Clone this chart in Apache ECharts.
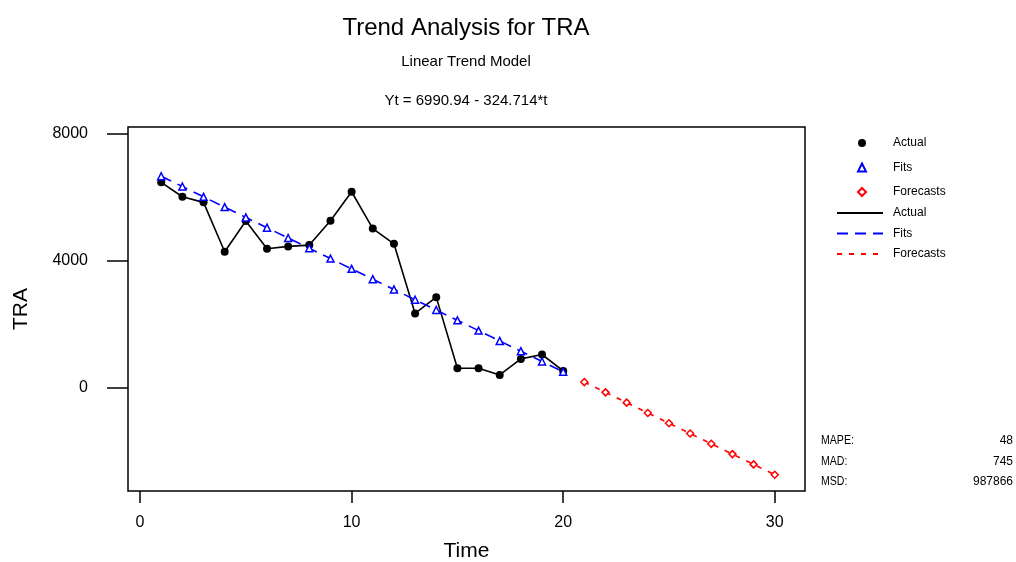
<!DOCTYPE html>
<html>
<head>
<meta charset="utf-8">
<script src="https://cdn.jsdelivr.net/npm/echarts@6/dist/echarts.min.js"></script>
<style>
  html, body { margin: 0; padding: 0; background: #fff; }
  #main { width: 1016px; height: 562px; }
</style>
</head>
<body>
<div id="main"></div>
<script>
// data
var actualTime = [1, 2, 3, 4, 5, 6, 7, 8, 9, 10, 11, 12, 13, 14, 15, 16, 17, 18, 19, 20];
var actualValues = [6474, 6019, 5842, 4282, 5252, 4377, 4453, 4494, 5261, 6177,
                    5015, 4535, 2337, 2852, 609, 609, 398, 903, 1042, 524];
var fitValues = [6666.2, 6341.5, 6016.8, 5692.1, 5367.4, 5042.7, 4717.9, 4393.2, 4068.5, 3743.8,
                 3419.1, 3094.4, 2769.7, 2444.9, 2120.2, 1795.5, 1470.8, 1146.1, 821.4, 496.7];
var forecastTime = [21, 22, 23, 24, 25, 26, 27, 28, 29, 30];
var forecastValues = [171.9, -152.8, -477.5, -802.2, -1126.9, -1451.6, -1776.3, -2101.1, -2425.8, -2750.5];
var xTicks = [0, 10, 20, 30];
var yTicks = [0, 4000, 8000];
var statNames = ['MAPE:', 'MAD:', 'MSD:'];
var statValues = ['48', '745', '987866'];

var SANS = "'Liberation Sans', Arial, sans-serif";

function pairs(xs, ys) {
    var out = [];
    for (var i = 0; i < xs.length; i++) {
        out.push([xs[i], ys[i]]);
    }
    return out;
}

var actualData = pairs(actualTime, actualValues);
var fitData = pairs(actualTime, fitValues);
var forecastData = pairs(forecastTime, forecastValues);

var myChart = echarts.init(document.getElementById('main'));

// plain text pieces (titles, stats)
function label(x, y, text, size, align, scale) {
    return {
        type: 'text', x: x, y: y, scaleX: scale,
        style: { text: text, font: size + 'px ' + SANS, fill: '#000',
                 textAlign: align, textVerticalAlign: 'middle' }
    };
}

var graphics = [
    label(466, 28, 'Trend Analysis for TRA', 24, 'center', 1),
    label(466, 62, 'Linear Trend Model', 15, 'center', 1),
    label(466, 101, 'Yt = 6990.94 - 324.714*t', 15, 'center', 1)
];
// stats block on the lower right
for (var i = 0; i < statNames.length; i++) {
    graphics.push(label(821, 441 + i * 20.5, statNames[i], 12, 'left', 0.88));
    graphics.push(label(1013, 441 + i * 20.5, statValues[i], 12, 'right', 1));
}

var option = {
    animation: false,
    backgroundColor: '#fff',
    graphic: graphics,
    grid: {
        left: 128, right: 211, top: 127, bottom: 71,
        outerBoundsMode: 'none', containLabel: false,
        show: true, borderColor: '#000', borderWidth: 1.5, backgroundColor: 'transparent'
    },
    legend: [{
        orient: 'vertical',
        left: 852, top: 132,
        itemWidth: 8, itemHeight: 8, itemGap: 12.5,
        data: ['Actual', 'Fits', 'Forecasts'],
        textStyle: { fontFamily: SANS, fontSize: 12, color: '#000', padding: [0, 0, 0, 22] },
        selectedMode: false
    }, {
        orient: 'vertical',
        left: 831, top: 202,
        itemWidth: 46, itemHeight: 12, itemGap: 8.5,
        data: ['Actual line', 'Fits line', 'Forecasts line'],
        formatter: function(name) { return name.replace(' line', ''); },
        itemStyle: { color: 'rgba(0,0,0,0)', borderWidth: 0, opacity: 0 },
        textStyle: { fontFamily: SANS, fontSize: 12, color: '#000', padding: [0, 0, 0, 5] },
        selectedMode: false
    }],
    xAxis: {
        type: 'value',
        min: -0.57, max: 31.43,
        name: 'Time', nameLocation: 'middle', nameGap: 50,
        nameTextStyle: { fontFamily: SANS, fontSize: 21, color: '#000' },
        axisLine: { show: false, onZero: false },
        axisTick: { show: true, length: 12, customValues: xTicks,
                    lineStyle: { color: '#000', width: 1.5 } },
        axisLabel: { customValues: xTicks, margin: 24, fontFamily: SANS, fontSize: 16, color: '#000',
                     formatter: function(v) { return String(v); } },
        splitLine: { show: false }
    },
    yAxis: {
        type: 'value',
        min: -3265, max: 8220,
        name: 'TRA', nameLocation: 'middle', nameGap: 96,
        nameTextStyle: { fontFamily: SANS, fontSize: 21, color: '#000' },
        axisLine: { show: false, onZero: false },
        axisTick: { show: true, length: 21, customValues: yTicks,
                    lineStyle: { color: '#000', width: 1.5 } },
        axisLabel: { customValues: yTicks, margin: 40, fontFamily: SANS, fontSize: 16, color: '#000',
                     formatter: function(v) { return String(v); } },
        splitLine: { show: false }
    },
    series: [{
        name: 'Actual line', type: 'line', data: actualData,
        symbol: 'none', z: 2,
        lineStyle: { color: '#000', width: 1.6 },
        itemStyle: { color: '#000' }
    }, {
        name: 'Fits line', type: 'line', data: fitData,
        symbol: 'none', z: 2,
        lineStyle: { color: '#0000ff', width: 1.6, type: [11, 7] },
        itemStyle: { color: '#0000ff' }
    }, {
        name: 'Forecasts line', type: 'line', data: forecastData,
        symbol: 'none', z: 2,
        lineStyle: { color: '#ff0000', width: 1.6, type: [5, 7] },
        itemStyle: { color: '#ff0000' }
    }, {
        name: 'Actual', type: 'scatter', data: actualData,
        symbol: 'circle', symbolSize: 8, z: 3,
        itemStyle: { color: '#000', opacity: 1 }
    }, {
        name: 'Fits', type: 'scatter', data: fitData,
        symbol: 'triangle', symbolSize: 7, z: 4,
        itemStyle: { color: '#fff', borderColor: '#0000ff', borderWidth: 1.5, opacity: 1 }
    }, {
        name: 'Forecasts', type: 'scatter', data: forecastData,
        symbol: 'diamond', symbolSize: 7, z: 4,
        itemStyle: { color: '#fff', borderColor: '#ff0000', borderWidth: 1.5, opacity: 1 }
    }]
};

myChart.setOption(option);
</script>
</body>
</html>
